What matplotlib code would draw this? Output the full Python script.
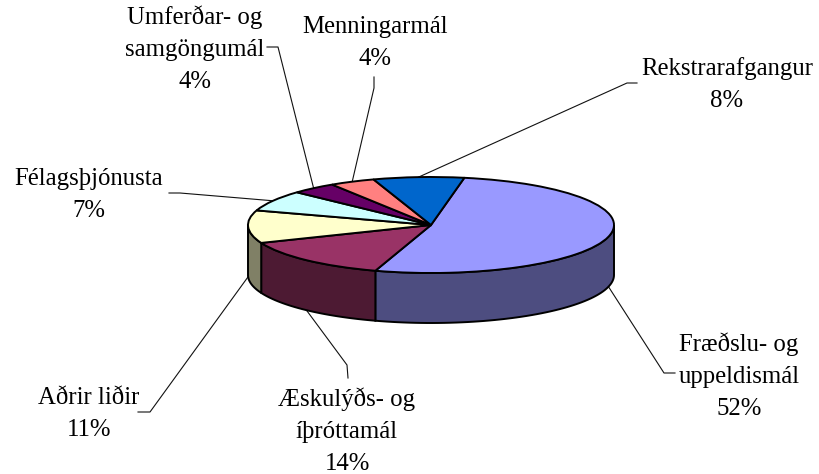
import numpy as np
import matplotlib
matplotlib.use('Agg')
import matplotlib.pyplot as plt

# hlutdeild hvers málaflokks, byrjar á stærstu sneið og fer réttsælis
labels = ['Fræðslu- og\nuppeldismál\n52%', 'Æskulýðs- og\níþróttamál\n14%', 'Aðrir liðir\n11%',
          'Félagsþjónusta\n7%', 'Umferðar- og\nsamgöngumál\n4%', 'Menningarmál\n4%', 'Rekstrarafgangur\n8%']
shares = [52, 14, 11, 7, 4, 4, 8]
top_colors = ['#9999FF', '#993366', '#FFFFCC', '#CCFFFF', '#660066', '#FF8080', '#0066CC']
side_colors = ['#4D4D80', '#4D1A33', '#808066', '#668080', '#330033', '#804040', '#003366']

# label centre x and first baseline, leader elbows, all in picture pixels
label_pos = [(739, 351), (347, 406), (89, 404), (89, 185), (195, 24), (375, 33), (727, 75)]
elbows = [[(664, 373), (675, 373)], [(347, 365), (348, 378)], [(150, 412), (138, 412)],
          [(180, 193), (169, 193)], [(278, 47), (267, 47)], [(374, 88), (374, 77)], [(627, 83), (637, 83)]]

cx, cy, rx, ry = 431, 225, 183, 48
depth = 50 / ry
start = 10.5
pitch = 32


def px(x, y):
    return (x - cx) / rx, (cy - y) / ry


fig = plt.figure(figsize=(8.19, 4.74), dpi=100)
ax = fig.add_axes([0, 0, 1, 1])

ax.pie(shares, colors=top_colors, startangle=90 - start, counterclock=False,
       wedgeprops={'edgecolor': 'black', 'linewidth': 1.4, 'zorder': 3})
ax.set_aspect('auto')
ax.set_xlim(-cx / rx, (819 - cx) / rx)
ax.set_ylim((cy - 474) / ry, cy / ry)

edges = start + np.cumsum([0] + shares) * 3.6
for i in range(len(shares)):
    a0, a1 = edges[i], edges[i + 1]
    # side wall only shows on the front half
    lo, hi = max(a0, 90), min(a1, 270)
    if lo < hi:
        t = np.radians(np.linspace(lo, hi, 60))
        xs = np.sin(t)
        ys = np.cos(t)
        ax.fill(np.r_[xs, xs[::-1]], np.r_[ys, ys[::-1] - depth], facecolor=side_colors[i],
                edgecolor='black', linewidth=1.4, zorder=2)

    mid = np.radians((a0 + a1) / 2)
    ax_x, ax_y = np.sin(mid), np.cos(mid)
    if np.cos(mid) < 0 and i < 3:
        ax_y -= depth
    pts = [px(*p) for p in elbows[i]]
    ax.plot([ax_x] + [p[0] for p in pts], [ax_y] + [p[1] for p in pts], color='#111111', lw=0.8, zorder=1)

    for k, line in enumerate(labels[i].split('\n')):
        lx, ly = px(label_pos[i][0], label_pos[i][1] + k * pitch)
        ax.text(lx, ly, line, ha='center', va='baseline', family='Liberation Serif',
                fontsize=17.8, color='black', zorder=4)

fig.savefig('out.png', dpi=100)
